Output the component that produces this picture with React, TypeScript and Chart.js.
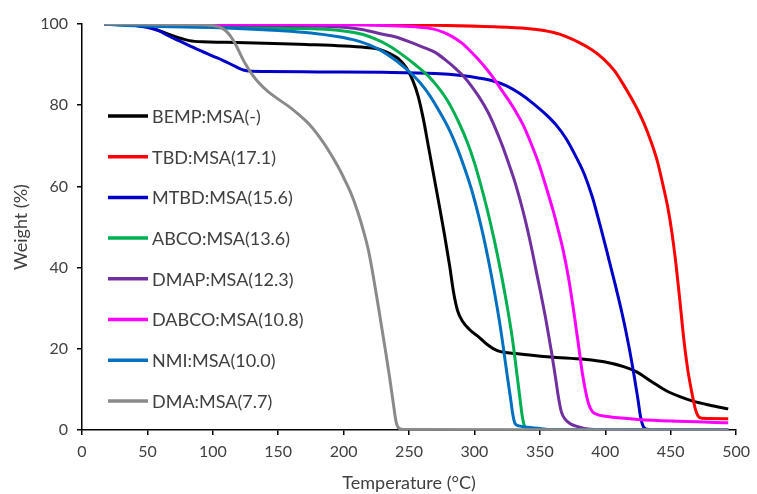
import React, { useEffect, useRef } from "react";
import { Chart, registerables } from "chart.js";

Chart.register(...registerables);

// Thermogravimetric traces: [temperature °C, weight %]
const BEMP_MSA: [number, number][] = [
  [17, 100], [40, 99.8], [50, 99.3], [57, 98.6], [65, 97.6], [72, 96.8], [82, 95.9],
  [92, 95.6], [110, 95.5], [166, 95.0], [217, 94.2], [228, 93.7], [236, 92.6], [242, 91.4],
  [248, 89.2], [253, 86], [257, 82.2], [261, 76.5], [265, 69.5], [269, 62.5], [273, 55.5],
  [277, 48.3], [281, 40.5], [284, 34], [287, 29.5], [291, 26.7], [297, 24.5], [303, 23],
  [310, 21], [318, 19.5], [333, 18.8], [358, 18.0], [384, 17.4], [399, 16.8], [414, 15.6],
  [424, 14.3], [435, 12], [447, 9.6], [457, 8.2], [467, 7.1], [480, 6.1], [494, 5.2],
];
const TBD_MSA: [number, number][] = [
  [17, 100], [150, 100], [250, 99.8], [315, 99.3], [340, 98.9], [353, 98.4], [365, 97.5],
  [379, 95.6], [390, 93.6], [399, 91.3], [407, 88.5], [414, 85], [420, 81.7], [425, 78.7],
  [430, 75.2], [435, 71], [440, 66], [444, 60.5], [448, 54.5], [451, 48.5], [454, 41],
  [457, 32], [460, 22.5], [463, 15], [466, 9.5], [469, 5], [471, 3.4], [474, 2.9], [494, 2.8],
];
const MTBD_MSA: [number, number][] = [
  [17, 100], [35, 99.8], [45, 99.4], [52, 99], [59, 98.3], [66, 97.1], [74, 95.9], [82, 94.7],
  [90, 93.5], [100, 92.1], [108, 91], [115, 89.9], [120, 89.1], [124, 88.6], [128, 88.4],
  [140, 88.3], [180, 88.2], [230, 88.1], [270, 87.8], [290, 87.3], [303, 86.7], [315, 85.9],
  [325, 84.7], [335, 82.8], [345, 80.4], [355, 77.6], [363, 74.9], [370, 71.8], [377, 67.7],
  [384, 63], [390, 57.5], [396, 50.5], [402, 43], [408, 35.3], [413, 28.5], [418, 20.7],
  [422, 13.5], [425, 7.5], [427, 3.2], [429, 0.9], [432, 0.2], [440, 0.05], [494, 0],
];
const ABCO_MSA: [number, number][] = [
  [17, 100], [100, 99.6], [150, 99.0], [200, 98.3], [215, 97.4], [225, 96.2], [235, 94.6],
  [245, 92.4], [255, 89.9], [265, 87.1], [272, 84.5], [280, 80.8], [288, 75.8], [295, 70.5],
  [300, 65.8], [305, 60.2], [310, 54], [315, 47], [320, 39.2], [325, 30.5], [329, 22.5],
  [332, 15], [334.5, 8.5], [336.5, 3.5], [338, 1.2], [340, 0.4], [346, 0.1], [494, 0],
];
const DMAP_MSA: [number, number][] = [
  [17, 100], [150, 99.6], [200, 99.2], [215, 98.6], [228, 97.6], [240, 96.8], [252, 95.4],
  [262, 94.1], [270, 93], [278, 91.1], [285, 89.2], [292, 87], [298, 84.6], [304, 81.8],
  [310, 78.5], [316, 74.3], [321, 70.3], [326, 65.8], [331, 61], [335, 56.5], [339, 51.5],
  [343, 45.8], [347, 39.5], [351, 33.2], [355, 26.5], [359, 19], [362, 12.8], [364.5, 7.5],
  [366.5, 4.4], [369, 2.8], [373, 1.6], [377, 1.0], [384, 0.4], [392, 0.1], [494, 0],
];
const DABCO_MSA: [number, number][] = [
  [17, 100], [200, 99.8], [230, 99.6], [255, 99.3], [268, 98.8], [276, 98], [283, 96.9],
  [290, 95.4], [296, 93.6], [302, 91.6], [308, 89.4], [314, 86.9], [320, 84.1], [326, 81.3],
  [332, 78.2], [338, 74.6], [344, 70], [350, 64.8], [355, 59.6], [360, 54.2], [364, 49.3],
  [368, 44], [372, 37.3], [376, 29], [379.5, 21], [382.5, 14], [385, 9.5], [387.5, 6.2],
  [390, 4.6], [394, 3.8], [400, 3.4], [410, 3.0], [425, 2.6], [450, 2.2], [494, 1.8],
];
const NMI_MSA: [number, number][] = [
  [17, 100], [30, 99.7], [60, 99.4], [105, 99.1], [150, 98.4], [175, 97.8], [195, 96.9],
  [210, 95.9], [220, 94.8], [230, 93.2], [240, 91.0], [250, 88.3], [258, 85.7], [266, 82.3],
  [274, 78], [281, 73.8], [287, 69.3], [293, 64], [298, 59], [303, 53], [307, 47.5],
  [311, 41.3], [315, 34.5], [319, 27], [322, 20.5], [325, 13.5], [327.5, 8], [329.5, 3.5],
  [331, 1.6], [334, 1], [340, 0.7], [350, 0.4], [358, 0.1], [494, 0],
];
const DMA_MSA: [number, number][] = [
  [17, 100], [90, 99.8], [102, 99.5], [107, 99], [111, 98], [114, 96.8], [117, 95.2],
  [120, 93.3], [123, 91.3], [126, 89.6], [130, 87.6], [135, 85.6], [142, 83.4], [150, 81.5],
  [158, 79.7], [166, 77.6], [174, 75.2], [181, 72.4], [188, 69.1], [196, 64.7], [201, 61.5],
  [206, 58], [211, 53.5], [215, 49.2], [219, 44.2], [223, 37.2], [227, 29.5], [231, 21.5],
  [235, 13.3], [238, 6.5], [240, 2.2], [242, 0.5], [246, 0.1], [494, 0],
];

const SERIES_LABELS = [
  "BEMP:MSA(-)",
  "TBD:MSA(17.1)",
  "MTBD:MSA(15.6)",
  "ABCO:MSA(13.6)",
  "DMAP:MSA(12.3)",
  "DABCO:MSA(10.8)",
  "NMI:MSA(10.0)",
  "DMA:MSA(7.7)",
];
const SERIES_DATA = [BEMP_MSA, TBD_MSA, MTBD_MSA, ABCO_MSA, DMAP_MSA, DABCO_MSA, NMI_MSA, DMA_MSA];
const SERIES_COLORS = [
  "#000000",
  "#FF0000",
  "#0000C8",
  "#00B050",
  "#7030A0",
  "#FF00FF",
  "#0070C0",
  "#8A8A8A",
];

const X_TICKS = [0, 50, 100, 150, 200, 250, 300, 350, 400, 450, 500];
const Y_TICKS = [0, 20, 40, 60, 80, 100];

const FONT = "Lato, 'Open Sans', sans-serif";
const TEXT_COLOR = "#404040";

// Legend drawn inside the plot area as a single column
const insideLegend = {
  id: "insideLegend",
  afterDatasetsDraw(chart: any) {
    const { ctx, chartArea } = chart;
    const x0 = chartArea.left + 26;
    const lineLen = 40;
    const y0 = chartArea.top + 92;
    const step = 40.7;
    ctx.save();
    ctx.font = `18px ${FONT}`;
    ctx.textBaseline = "middle";
    ctx.textAlign = "left";
    chart.data.datasets.forEach((ds: any, i: number) => {
      const y = y0 + i * step;
      ctx.strokeStyle = ds.borderColor;
      ctx.lineWidth = 3.5;
      ctx.lineCap = "butt";
      ctx.beginPath();
      ctx.moveTo(x0, y);
      ctx.lineTo(x0 + lineLen, y);
      ctx.stroke();
      ctx.fillStyle = TEXT_COLOR;
      ctx.fillText(ds.label, x0 + lineLen + 4, y + 1);
    });
    ctx.restore();
  },
};

export default function App() {
  const canvasRef = useRef<HTMLCanvasElement | null>(null);

  useEffect(() => {
    if (!canvasRef.current) return;
    const n = SERIES_DATA.length;
    const chart = new Chart(canvasRef.current, {
      type: "line",
      data: {
        datasets: SERIES_DATA.map((pts, i) => ({
          label: SERIES_LABELS[i],
          data: pts.map(([x, y]) => ({ x, y })),
          borderColor: SERIES_COLORS[i],
          backgroundColor: SERIES_COLORS[i],
          borderWidth: 3,
          pointRadius: 0,
          fill: false,
          cubicInterpolationMode: "monotone" as const,
          order: n - i,
        })),
      },
      options: {
        responsive: false,
        animation: false,
        devicePixelRatio: 1,
        layout: { padding: { top: 24, right: 17, left: 0, bottom: 0 } },
        plugins: {
          legend: { display: false },
          tooltip: { enabled: false },
        },
        scales: {
          x: {
            type: "linear",
            min: 0,
            max: 500,
            afterFit: (scale: any) => {
              scale.height = 64;
            },
            afterBuildTicks: (scale: any) => {
              scale.ticks = X_TICKS.map((v) => ({ value: v }));
            },
            ticks: {
              font: { family: FONT, size: 16 },
              color: TEXT_COLOR,
              padding: 7,
              maxRotation: 0,
              autoSkip: false,
            },
            grid: {
              drawOnChartArea: false,
              drawTicks: true,
              tickLength: 5,
              color: "#000000",
              lineWidth: 1.5,
            },
            border: { display: true, color: "#000000", width: 1.5 },
            title: {
              display: true,
              text: "Temperature (°C)",
              font: { family: FONT, size: 18 },
              color: TEXT_COLOR,
              padding: { top: 0, bottom: 0 },
            },
          },
          y: {
            type: "linear",
            min: 0,
            max: 100,
            afterFit: (scale: any) => {
              scale.width = 82;
            },
            afterBuildTicks: (scale: any) => {
              scale.ticks = Y_TICKS.map((v) => ({ value: v }));
            },
            ticks: {
              font: { family: FONT, size: 16 },
              color: TEXT_COLOR,
              padding: 9,
              autoSkip: false,
            },
            grid: {
              drawOnChartArea: false,
              drawTicks: true,
              tickLength: 5,
              color: "#000000",
              lineWidth: 1.5,
            },
            border: { display: true, color: "#000000", width: 1.5 },
            title: {
              display: true,
              text: "Weight (%)",
              font: { family: FONT, size: 18 },
              color: TEXT_COLOR,
              padding: { top: 10, bottom: 0 },
            },
          },
        },
      },
      plugins: [insideLegend],
    });
    return () => chart.destroy();
  }, []);

  return (
    <canvas
      ref={canvasRef}
      width={757}
      height={494}
      style={{ position: "fixed", left: 0, top: 0, width: 757, height: 494, background: "#ffffff" }}
    />
  );
}
